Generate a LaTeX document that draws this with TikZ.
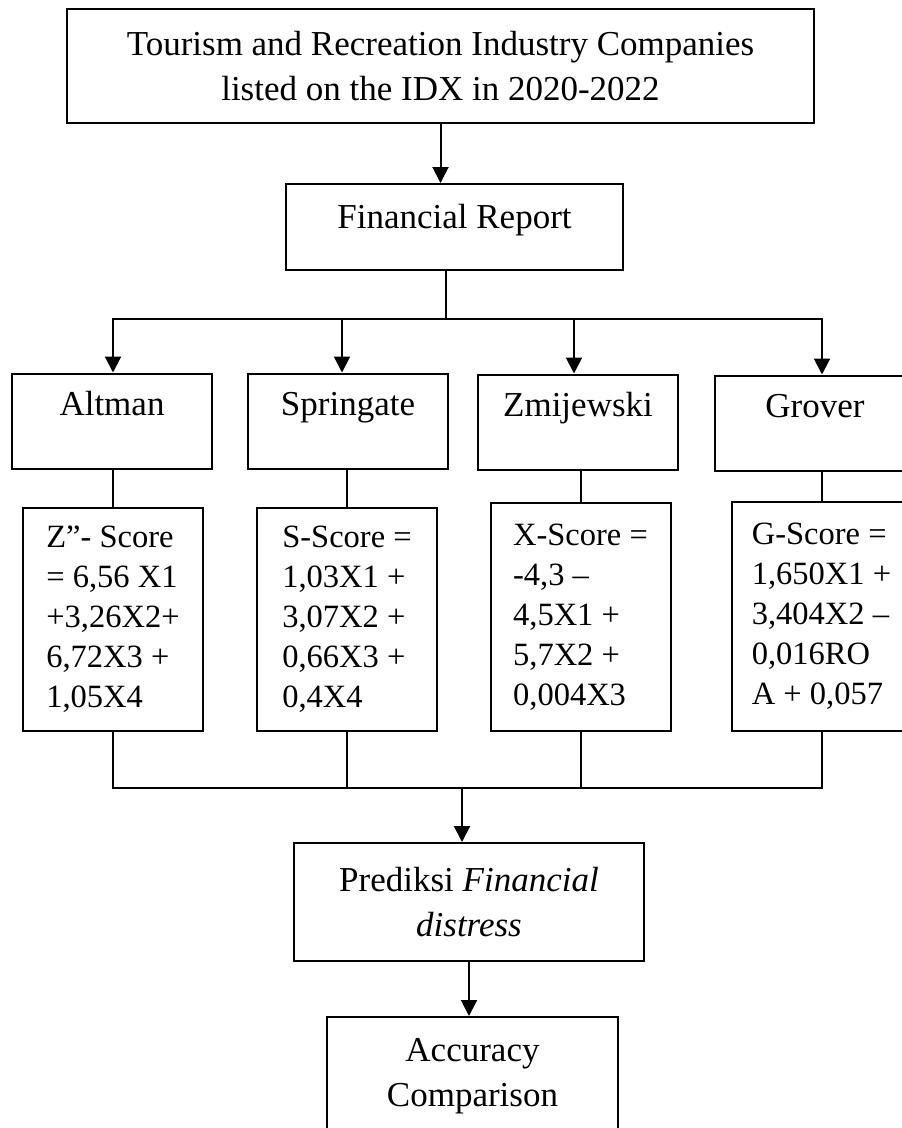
\documentclass[tikz,border=0pt]{standalone}
\usepackage{fontspec}
\usepackage{tikz}
\usetikzlibrary{arrows.meta}
\setmainfont{Liberation Serif}
\newlength{\methodboxwidth}
\newlength{\methodboxheight}
\newlength{\scoreboxwidth}
\newlength{\scoreboxheight}
\newlength{\connectorwidth}
\setlength{\methodboxwidth}{200pt}
\setlength{\methodboxheight}{95pt}
\setlength{\scoreboxwidth}{180pt}
\setlength{\scoreboxheight}{223pt}
\setlength{\connectorwidth}{2pt}
\definecolor{boxcolor}{RGB}{0,0,0}
\definecolor{connectorcolor}{RGB}{0,0,0}
\newcommand{\labelfont}{\fontsize{35}{45}\selectfont}
\newcommand{\scorefont}{\fontsize{32.5}{40}\selectfont}
\tikzstyle{every node} = [inner sep=0]
\tikzstyle{box} = [draw=boxcolor, line width=\connectorwidth, rectangle, align=center, font=\labelfont]
\tikzstyle{methodbox} = [box, minimum width=\methodboxwidth, minimum height=\methodboxheight, text height=24pt, text depth=35pt]
\tikzstyle{scorebox} = [box, align=left, minimum width=\scoreboxwidth, minimum height=\scoreboxheight, font=\scorefont]
\tikzstyle{connector} = [draw=connectorcolor, line width=\connectorwidth, line cap=rect]
\tikzstyle{flow} = [connector, line cap=butt, ->]

\begin{document}
\begin{tikzpicture}[
		x=1pt, y=-1pt,
		>={Triangle[width=16pt, length=16pt]}
		]
		
		\useasboundingbox (0,0) rectangle (902,1128);
		\clip (0,0) rectangle (902,1128);
		
		\node[box, minimum width=747pt, minimum height=114pt] (title) at (440.5,66) {Tourism and Recreation Industry Companies\\listed on the IDX in 2020-2022};
		\node[box, minimum width=337pt, minimum height=86pt, text height=24pt, text depth=22pt] (report) at (454.5,227) {Financial Report};
		
		% the four models
		\node[methodbox] (altman) at (112,421) {Altman};
		\node[methodbox] (springate) at (348,421) {Springate};
		\node[methodbox] (zmijewski) at (578,422) {Zmijewski};
		\node[methodbox] (grover) at (815,423) {Grover};
		
		\node[scorebox] (altmanscore) at (113,619.5) {Z”- Score\\= 6,56 X1\\+3,26X2+\\6,72X3 +\\1,05X4};
		\node[scorebox] (springatescore) at (347,619.5) {S-Score =\\1,03X1 +\\3,07X2 +\\0,66X3 +\\0,4X4};
		\node[scorebox, minimum height=228pt] (zmijewskiscore) at (580.5,617) {X-Score =\\-4,3 –\\4,5X1 +\\5,7X2 +\\0,004X3};
		\node[scorebox, minimum height=229pt] (groverscore) at (821.5,616.5) {G-Score =\\1,650X1 +\\3,404X2 –\\0,016RO\\A + 0,057};
		
		\node[box, minimum width=350pt, minimum height=118pt] (prediction) at (469,902) {Prediksi \textit{Financial}\\\textit{distress}};
		\node[box, minimum width=291pt, minimum height=118pt] (comparison) at (472.5,1076) {Accuracy\\Comparison};
		
		\coordinate (split) at (446,319);
		\coordinate (dropaltman) at (113,319);
		\coordinate (dropspringate) at (342,319);
		\coordinate (dropzmijewski) at (574,319);
		\coordinate (dropgrover) at (822,319);
		\coordinate (merge) at (462,788);
		
		\draw[flow] (title.south) -- (title.south |- report.north);
		\draw[connector] (split |- report.south) -- (split);
		\draw[connector] (dropaltman) -- (dropgrover);
		\draw[flow] (dropaltman) -- (dropaltman |- altman.north);
		\draw[flow] (dropspringate) -- (dropspringate |- springate.north);
		\draw[flow] (dropzmijewski) -- (dropzmijewski |- zmijewski.north);
		\draw[flow] (dropgrover) -- (dropgrover |- grover.north);
		
		\draw[connector] (altmanscore.north |- altman.south) -- (altmanscore.north);
		\draw[connector] (springatescore.north |- springate.south) -- (springatescore.north);
		\draw[connector] (zmijewskiscore.north |- zmijewski.south) -- (zmijewskiscore.north);
		\draw[connector] (groverscore.north |- grover.south) -- (groverscore.north);
		
		\draw[connector] (altmanscore.south) -- (altmanscore.south |- merge);
		\draw[connector] (springatescore.south) -- (springatescore.south |- merge);
		\draw[connector] (zmijewskiscore.south) -- (zmijewskiscore.south |- merge);
		\draw[connector] (groverscore.south) -- (groverscore.south |- merge);
		\draw[connector] (altmanscore.south |- merge) -- (groverscore.south |- merge);
		\draw[flow] (merge) -- (merge |- prediction.north);
		\draw[flow] (prediction.south) -- (prediction.south |- comparison.north);
		
	\end{tikzpicture}
\end{document}
